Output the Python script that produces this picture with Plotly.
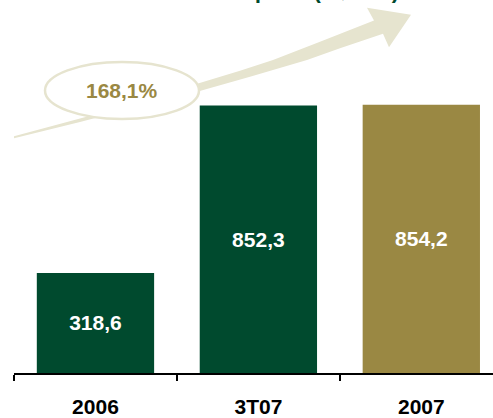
import plotly.graph_objects as go

categories = ["2006", "3T07", "2007"]
values = [318.6, 852.3, 854.2]
bar_colors = ["#004A2E", "#004A2E", "#9A8843"]
growth_label = "168,1%"
title_text = "Patrimônio Líquido (R$ MM)"

FONT = "Arial, Liberation Sans, sans-serif"
WIDTH, HEIGHT = 493, 418
L, R, T, B = 14, 0, 59, 40
PW = WIDTH - L - R
PH = HEIGHT - T - B
BOTTOM = HEIGHT - B


def pp(x, y):
    return ((x - L) / PW, (BOTTOM - y) / PH)


def path_from(points):
    parts = []
    for i, (x, y) in enumerate(points):
        px, py = pp(x, y)
        parts.append(("M" if i == 0 else "L") + f"{px:.5f},{py:.5f}")
    return " ".join(parts) + " Z"


arrow_pts = [
    (14, 137.5), (80, 119.5), (140, 103), (198, 84), (240, 71), (273, 60),
    (320, 41.5), (374, 20),
    (367, 7), (411, 14), (389, 47),
    (383, 33.3), (340, 48), (307, 60), (250, 77), (198, 92), (140, 107),
    (80, 123), (14, 139.5),
]

fig = go.Figure()
fig.add_trace(go.Bar(
    x=categories, y=values,
    marker=dict(color=bar_colors, line=dict(width=0)),
    width=0.72,
    texttemplate="%{y:.1f}",
    textposition="inside",
    insidetextanchor="middle",
    textangle=0,
    textfont=dict(family=FONT, size=21, color="white", weight="bold"),
    hoverinfo="skip",
))

ex0, ey0 = pp(45, 120)
ex1, ey1 = pp(199, 62)

shapes = [
    dict(type="path", xref="paper", yref="paper", path=path_from(arrow_pts),
         fillcolor="#E6E4CF", line=dict(width=0), layer="above"),
    dict(type="circle", xref="paper", yref="paper", x0=ex0, x1=ex1, y0=ey0, y1=ey1,
         fillcolor="white", line=dict(color="#E6E4CF", width=2.5), layer="above"),
]

ax, ay = pp(122, 91)
tx, ty = pp(253, -10.5)
annotations = [
    dict(text=f"<b>{growth_label}</b>", x=ax, y=ay, xref="paper", yref="paper",
         xanchor="center", yanchor="middle", showarrow=False,
         font=dict(family=FONT, size=21, color="#9A8843")),
    dict(text=f"<b>{title_text}</b>", x=tx, y=ty, xref="paper", yref="paper",
         xanchor="center", yanchor="middle", showarrow=False,
         font=dict(family=FONT, size=22, color="#004A2E")),
]

fig.update_layout(
    width=WIDTH, height=HEIGHT,
    margin=dict(l=L, r=R, t=T, b=B, pad=0),
    paper_bgcolor="white", plot_bgcolor="white",
    separators=",.",
    showlegend=False,
    shapes=shapes,
    annotations=annotations,
    xaxis=dict(
        range=[-0.5, 2.44], showgrid=False, zeroline=False,
        showline=True, linecolor="black", linewidth=1.5,
        ticks="outside", tickson="boundaries", ticklen=6, tickwidth=1.5, tickcolor="black",
        tickfont=dict(family=FONT, size=21, color="black", weight="bold"),
        ticklabelstandoff=14,
        fixedrange=True,
    ),
    yaxis=dict(range=[0, 1000], visible=False, fixedrange=True),
)

fig.write_html("out.html", config={"displayModeBar": False})
